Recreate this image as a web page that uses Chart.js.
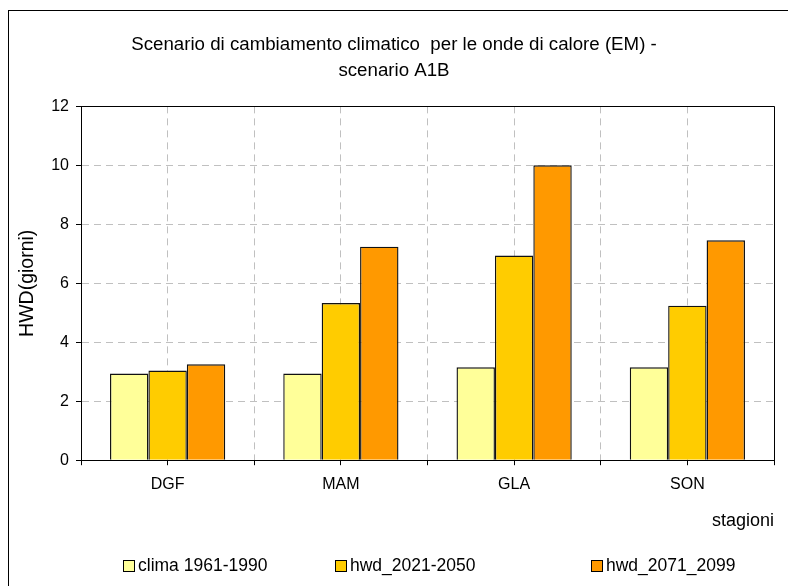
<!DOCTYPE html>
<html><head><meta charset="utf-8">
<script src="https://cdn.jsdelivr.net/npm/chart.js@4/dist/chart.umd.min.js"></script>
<style>html,body{margin:0;padding:0;background:#fff}#wrap{width:788px;height:586px}</style>
</head><body><div id="wrap"><canvas id="c" width="788" height="586"></canvas></div>
<script>
const categories = ['DGF', 'MAM', 'GLA', 'SON'];
const seriesNames = ['clima 1961-1990', 'hwd_2021-2050', 'hwd_2071_2099'];
const clima = [2.94, 2.94, 3.15, 3.15];
const hwd2021 = [3.04, 5.33, 6.94, 5.24];
const hwd2071 = [3.25, 7.24, 10.0, 7.46];
const yTicks = [0, 2, 4, 6, 8, 10, 12];
const colors = ['#FFFF99', '#FFCC00', '#FF9900'];
const titleLines = ['Scenario di cambiamento climatico  per le onde di calore (EM) -', 'scenario A1B'];

const FONT = '"Liberation Sans", Arial, sans-serif';
Chart.defaults.font.family = FONT;
Chart.defaults.color = '#000';

const GRID = '#c0c0c0';
const DASH = [7, 5];

const framePlugin = {
  id: 'frame',
  beforeDraw(chart) {
    const ctx = chart.ctx;
    ctx.save();
    ctx.fillStyle = '#fff';
    ctx.fillRect(0, 0, chart.width, chart.height);
    ctx.strokeStyle = '#000';
    ctx.lineWidth = 1;
    ctx.strokeRect(8.5, 10.5, 800, 600);
    ctx.restore();
  },
  afterDraw(chart) {
    const ctx = chart.ctx;
    const a = chart.chartArea;
    ctx.save();
    ctx.strokeStyle = '#000';
    ctx.lineWidth = 1;
    ctx.beginPath();
    const l = Math.round(a.left) + 0.5, r = Math.round(a.right) + 0.5, t = Math.round(a.top) + 0.5, b = Math.round(a.bottom) + 0.5;
    ctx.moveTo(l, t); ctx.lineTo(r, t); ctx.lineTo(r, b);
    ctx.stroke();
    // legend
    const xs = [123, 335, 591];
    const y = 566;
    ctx.font = '17.5px ' + FONT;
    ctx.textBaseline = 'middle';
    ctx.textAlign = 'left';
    chart.data.datasets.forEach((ds, i) => {
      ctx.fillStyle = ds.backgroundColor;
      ctx.fillRect(xs[i] + 0.5, y - 6 + 0.5, 11, 11);
      ctx.strokeStyle = '#000';
      ctx.strokeRect(xs[i] + 0.5, y - 6 + 0.5, 11, 11);
      ctx.fillStyle = '#000';
      ctx.fillText(ds.label, xs[i] + 15, y);
    });
    ctx.restore();
  }
};

const datasets = [clima, hwd2021, hwd2071].map((d, i) => ({
  label: seriesNames[i],
  data: d,
  backgroundColor: colors[i],
  borderColor: '#111',
  borderWidth: 1.4,
  categoryPercentage: 0.665,
  barPercentage: 1.0
}));

new Chart(document.getElementById('c'), {
  type: 'bar',
  data: { labels: categories, datasets },
  plugins: [framePlugin],
  options: {
    responsive: false,
    animation: false,
    devicePixelRatio: 1,
    layout: { padding: { left: 14, right: 14, top: 0, bottom: 40 } },
    plugins: {
      legend: { display: false },
      tooltip: { enabled: false },
      title: {
        display: true,
        text: titleLines,
        color: '#000',
        font: { size: 18.7, weight: 'normal', lineHeight: 1.4 },
        padding: { top: 32, bottom: 22 }
      }
    },
    scales: {
      x: {
        type: 'category',
        offset: true,
        grid: { offset: true, color: GRID, tickColor: '#000', tickLength: 5, drawTicks: true },
        border: { display: true, color: '#000', width: 1, dash: DASH },
        ticks: { font: { size: 16 }, color: '#000', padding: 10 },
        title: { display: true, text: 'stagioni', align: 'end', color: '#000', font: { size: 18 }, padding: { top: 6, bottom: 14 } }
      },
      x2: {
        type: 'category',
        labels: categories,
        position: 'bottom',
        weight: -1,
        offset: true,
        grid: { offset: false, color: GRID, tickColor: '#000', tickLength: 5, drawTicks: true },
        border: { display: false, dash: DASH },
        ticks: { display: false },
        afterFit(s) { s.height = 0; }
      },
      y: {
        min: 0,
        max: 12,
        afterBuildTicks(s) { s.ticks = yTicks.map(v => ({ value: v })); },
        afterFit(s) { s.width = 67; },
        grid: { color: GRID, tickColor: '#000', tickLength: 5, drawTicks: true },
        border: { display: true, color: '#000', width: 1, dash: DASH },
        ticks: { font: { size: 16 }, color: '#000', padding: 7 },
        title: { display: true, text: 'HWD(giorni)', color: '#000', font: { size: 19.5 }, padding: { top: 2, bottom: 0 } }
      }
    }
  }
});
</script></body></html>
